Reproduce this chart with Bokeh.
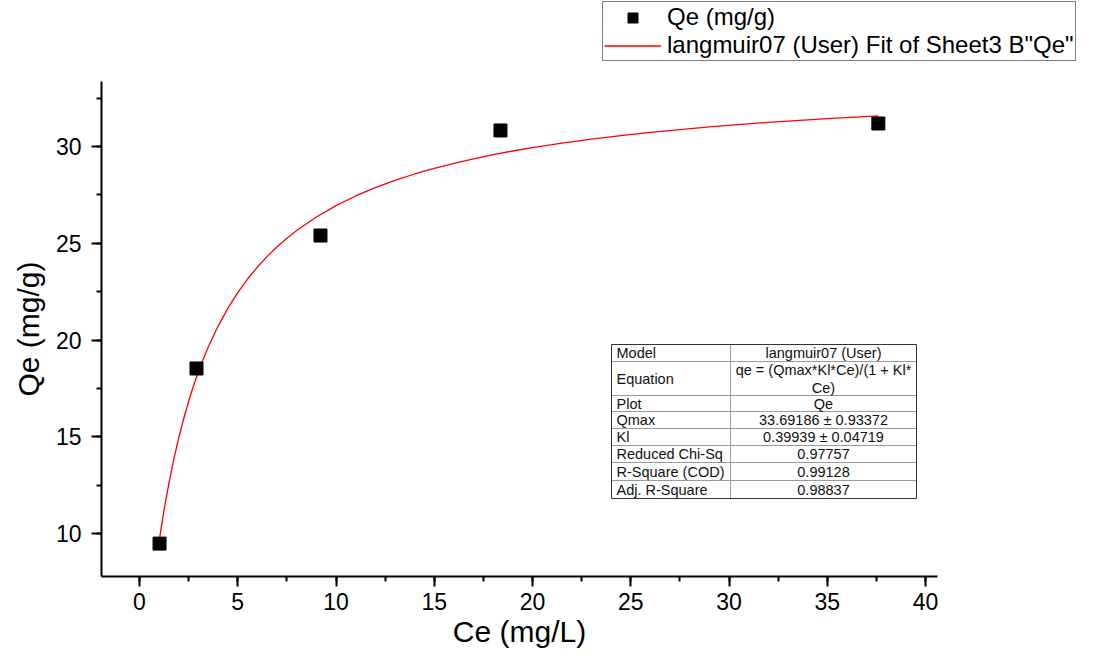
from bokeh.plotting import figure
from bokeh.layouts import column
from bokeh.models import Range1d, SingleIntervalTicker, Legend, LegendItem, ColumnDataSource
from bokeh.core.properties import value
from bokeh.embed import file_html
from bokeh.resources import INLINE

# ---- data ----
ce = [1.02, 2.9, 9.21, 18.37, 37.6]
qe = [9.48, 18.53, 25.40, 30.83, 31.19]

fit_ce = [1.0, 1.1, 1.25, 1.5, 1.75, 2.0, 2.25, 2.5, 2.75, 3.0, 3.25, 3.5, 4.0, 4.5,
          5.0, 5.5, 6.0, 6.5, 7.0, 7.5, 8.0, 9.0, 10.0, 11.0, 12.0, 13.0, 14.0, 15.0,
          16.0, 17.0, 18.0, 19.0, 20.0, 21.5, 23.0, 24.5, 26.0, 29.0, 32.0, 35.0, 37.6]
fit_qe = [9.616, 10.284, 11.219, 12.622, 13.861, 14.962, 15.946, 16.833, 17.635,
          18.365, 19.031, 19.641, 20.721, 21.647, 22.450, 23.152, 23.772, 24.322,
          24.816, 25.259, 25.661, 26.359, 26.945, 27.445, 27.876, 28.251, 28.580,
          28.872, 29.133, 29.367, 29.578, 29.769, 29.943, 30.178, 30.384, 30.568,
          30.733, 31.014, 31.247, 31.443, 31.588]

table_names = ["Model", "Equation", "Plot", "Qmax", "Kl", "Reduced Chi-Sq",
               "R-Square (COD)", "Adj. R-Square"]
table_values = ["langmuir07 (User)", "qe = (Qmax*Kl*Ce)/(1 + Kl*", "Qe",
                "33.69186 \u00b1 0.93372", "0.39939 \u00b1 0.04719", "0.97757",
                "0.99128", "0.98837"]
equation_cont = "Ce)"

legend_labels = ["Qe (mg/g)", 'langmuir07 (User) Fit of Sheet3 B"Qe"']

FONT = "Liberation Sans"

# ---- layout (pixels) ----
W, H = 1104, 657
TOP_H = 64
L, R, T, B = 101, 937, 81, 576
X0, X1 = -1.934, 40.61
Y0, Y1 = 7.78, 33.36


def dx(px):
    return X0 + (px - L) / (R - L) * (X1 - X0)


def dy(py):
    return Y1 - (py - T) / (B - T) * (Y1 - Y0)


# ---- legend strip (top); its ranges keep the series themselves out of view ----
pl = figure(width=W, height=TOP_H, output_backend="svg", toolbar_location=None,
            x_range=Range1d(1000, 1100), y_range=Range1d(1000, 1100),
            x_axis_type=None, y_axis_type=None,
            min_border_left=0, min_border_right=0, min_border_top=0, min_border_bottom=0)
pl.frame_align = False
pl.outline_line_color = None
pl.grid.visible = False
leg_sc = pl.scatter(x=ce, y=qe, marker="square", size=13, fill_color="black", line_color="black")
leg_ln = pl.line(x=fit_ce, y=fit_qe, line_color="red", line_width=1.3)
legend = Legend(items=[LegendItem(label=legend_labels[0], renderers=[leg_sc]),
                       LegendItem(label=legend_labels[1], renderers=[leg_ln])],
                location=(602, TOP_H - 61),
                border_line_color="black", border_line_width=1,
                background_fill_color="white", background_fill_alpha=1,
                label_text_font=FONT, label_text_font_size="24px", label_text_color="black",
                glyph_width=57, glyph_height=25, label_height=25, label_standoff=6,
                padding=1, spacing=0, margin=0)
pl.add_layout(legend, "center")

# ---- main plot ----
p = figure(width=W, height=H - TOP_H, output_backend="svg", toolbar_location=None,
           x_range=Range1d(X0, X1), y_range=Range1d(Y0, Y1),
           min_border_left=L, min_border_right=W - R,
           min_border_top=T - TOP_H, min_border_bottom=H - B)
p.frame_align = False
p.outline_line_color = None
p.grid.visible = False

for ax in (p.xaxis[0], p.yaxis[0]):
    ax.ticker = SingleIntervalTicker(interval=5, num_minor_ticks=2)
    ax.axis_line_width = 2
    ax.axis_line_color = "black"
    ax.major_tick_line_width = 2
    ax.minor_tick_line_width = 2
    ax.major_tick_in = 0
    ax.major_tick_out = 10
    ax.minor_tick_in = 0
    ax.minor_tick_out = 5
    ax.major_label_text_font = FONT
    ax.major_label_text_font_size = "23px"
    ax.major_label_text_color = "black"
    ax.axis_label_text_font = FONT
    ax.axis_label_text_font_size = "30px"
    ax.axis_label_text_font_style = "normal"
    ax.axis_label_text_color = "black"

p.xaxis.axis_label = "Ce (mg/L)"
p.yaxis.axis_label = "Qe (mg/g)"
p.xaxis.major_label_standoff = 6
p.yaxis.major_label_standoff = 10
p.xaxis.axis_label_standoff = 2
p.yaxis.axis_label_standoff = 8

p.line(fit_ce, fit_qe, line_color="red", line_width=1.3)
p.scatter(ce, qe, marker="square", size=13, fill_color="black", line_color="black")

# ---- stats table ----
tl, tr, tc = 611, 916, 730
row_edges = [344, 361, 395, 411, 428, 445, 462, 480, 498]
p.quad(left=[dx(tl)], right=[dx(tr)], top=[dy(row_edges[0])], bottom=[dy(row_edges[-1])],
       fill_color="white", line_color=None)
inner = row_edges[1:-1]
p.segment(x0=[dx(tl)] * len(inner), x1=[dx(tr)] * len(inner),
          y0=[dy(v) for v in inner], y1=[dy(v) for v in inner],
          line_color="#9a9a9a", line_width=1)
p.segment(x0=[dx(tc)], x1=[dx(tc)], y0=[dy(row_edges[0])], y1=[dy(row_edges[-1])],
          line_color="#9a9a9a", line_width=1)
p.quad(left=[dx(tl)], right=[dx(tr)], top=[dy(row_edges[0])], bottom=[dy(row_edges[-1])],
       fill_color=None, line_color="#333333", line_width=1)

centers = [(row_edges[i] + row_edges[i + 1]) / 2 for i in range(len(table_names))]
name_src = ColumnDataSource(dict(x=[dx(616)] * len(table_names),
                                 y=[dy(c) for c in centers], t=table_names))
p.text(x="x", y="y", text="t", source=name_src, text_font=value(FONT),
       text_font_size="14.5px", text_align="left", text_baseline="middle", text_color="#111111")

val_y = [dy(c) for c in centers]
val_y[1] = dy(369)
val_src = ColumnDataSource(dict(x=[dx((tc + tr) / 2)] * (len(table_values) + 1),
                                y=val_y + [dy(387)], t=table_values + [equation_cont]))
p.text(x="x", y="y", text="t", source=val_src, text_font=value(FONT),
       text_font_size="14.5px", text_align="center", text_baseline="middle", text_color="#111111")

layout = column(pl, p, spacing=0)
open("out.html", "w").write(file_html(layout, INLINE))
